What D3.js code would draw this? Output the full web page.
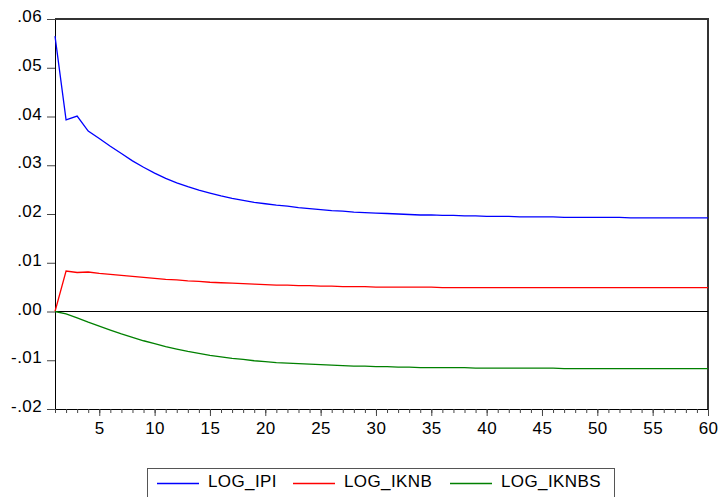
<!DOCTYPE html>
<html>
<head>
<meta charset="utf-8">
<script src="https://cdn.jsdelivr.net/npm/d3@7"></script>
<style>
  body { margin: 0; background: #fff; }
  svg { display: block; font-family: "Liberation Sans", Arial, sans-serif; }
</style>
</head>
<body>
<svg id="chart" width="718" height="497"></svg>
<script>
// Datos (periodos 1..60)
const periods = d3.range(1, 61);

const logIPI = [
  0.0565, 0.0393, 0.0401, 0.0370, 0.0355, 0.0339, 0.0324, 0.0309, 0.0296, 0.0284,
  0.0273, 0.0264, 0.0256, 0.0249, 0.0243, 0.0237, 0.0232, 0.0228, 0.0224, 0.0221,
  0.0218, 0.0216, 0.0213, 0.0211, 0.0209, 0.0207, 0.0206, 0.0204, 0.0203, 0.0202,
  0.0201, 0.0200, 0.0199, 0.0198, 0.0198, 0.0197, 0.0197, 0.0196, 0.0196, 0.0195,
  0.0195, 0.0195, 0.0194, 0.0194, 0.0194, 0.0194, 0.0193, 0.0193, 0.0193, 0.0193,
  0.0193, 0.0193, 0.0192, 0.0192, 0.0192, 0.0192, 0.0192, 0.0192, 0.0192, 0.0192
];

const logIKNB = [
  0.0000, 0.0083, 0.0080, 0.0081, 0.0078, 0.0076, 0.0074, 0.0072, 0.0070, 0.0068,
  0.0066, 0.0065, 0.0063, 0.0062, 0.0060, 0.0059, 0.0058, 0.0057, 0.0056, 0.0055,
  0.0054, 0.0054, 0.0053, 0.0053, 0.0052, 0.0052, 0.0051, 0.0051, 0.0051, 0.0050,
  0.0050, 0.0050, 0.0050, 0.0050, 0.0050, 0.0049, 0.0049, 0.0049, 0.0049, 0.0049,
  0.0049, 0.0049, 0.0049, 0.0049, 0.0049, 0.0049, 0.0049, 0.0049, 0.0049, 0.0049,
  0.0049, 0.0049, 0.0049, 0.0049, 0.0049, 0.0049, 0.0049, 0.0049, 0.0049, 0.0049
];

const logIKNBS = [
  0.0000, -0.0005, -0.0013, -0.0022, -0.0030, -0.0038, -0.0046, -0.0053, -0.0060, -0.0066,
  -0.0072, -0.0077, -0.0082, -0.0086, -0.0090, -0.0093, -0.0096, -0.0098, -0.0101, -0.0103,
  -0.0105, -0.0106, -0.0107, -0.0108, -0.0109, -0.0110, -0.0111, -0.0112, -0.0112, -0.0113,
  -0.0113, -0.0114, -0.0114, -0.0115, -0.0115, -0.0115, -0.0115, -0.0115, -0.0116, -0.0116,
  -0.0116, -0.0116, -0.0116, -0.0116, -0.0116, -0.0116, -0.0117, -0.0117, -0.0117, -0.0117,
  -0.0117, -0.0117, -0.0117, -0.0117, -0.0117, -0.0117, -0.0117, -0.0117, -0.0117, -0.0117
];

const seriesNames = ["LOG_IPI", "LOG_IKNB", "LOG_IKNBS"];
const seriesColors = ["#0000ff", "#ff0000", "#008000"];
const yTicks = [-0.02, -0.01, 0.00, 0.01, 0.02, 0.03, 0.04, 0.05, 0.06];
const xLabelTicks = [5, 10, 15, 20, 25, 30, 35, 40, 45, 50, 55, 60];

const series = [logIPI, logIKNB, logIKNBS];

// Configuración del SVG
const svg = d3.select("#chart");
const plotLeft = 55, plotRight = 708, plotTop = 19, plotBottom = 409;
const fontSize = "17px";

const x = d3.scaleLinear().domain([1, 60]).range([plotLeft, plotRight]);
const y = d3.scaleLinear().domain([-0.02, 0.06]).range([plotBottom, plotTop]);

// Formato estilo EViews: ".06", "-.01" (guion normal, sin cero inicial)
const fmt = v => v.toFixed(2).replace(/^(-?)0\./, "$1.");

// Eje Y
const yAxis = svg.append("g")
  .attr("transform", `translate(${plotLeft},0)`)
  .call(d3.axisLeft(y).tickValues(yTicks).tickFormat(fmt).tickSize(8).tickPadding(5));
yAxis.select(".domain").attr("stroke", "#000");
yAxis.selectAll(".tick line").attr("stroke", "#444");
yAxis.selectAll("text")
  .style("font-size", fontSize)
  .style("letter-spacing", "0.4px")
  .attr("dy", "0.15em")
  .attr("fill", "#000");

// Eje X: ticks menores en cada periodo
const xMinor = svg.append("g")
  .attr("transform", `translate(0,${plotBottom})`)
  .call(d3.axisBottom(x).tickValues(periods).tickFormat("").tickSize(4));
xMinor.select(".domain").attr("stroke", "#000");
xMinor.selectAll(".tick line").attr("stroke", "#444");

const xMajor = svg.append("g")
  .attr("transform", `translate(0,${plotBottom})`)
  .call(d3.axisBottom(x).tickValues(xLabelTicks).tickFormat(d3.format("d")).tickSize(7).tickPadding(6));
xMajor.select(".domain").remove();
xMajor.selectAll(".tick line").attr("stroke", "#444");
xMajor.selectAll("text")
  .style("font-size", fontSize)
  .style("letter-spacing", "0.4px")
  .attr("fill", "#000");

// Marco superior y derecho
svg.append("line")
  .attr("x1", plotLeft).attr("x2", plotRight + 1)
  .attr("y1", plotTop).attr("y2", plotTop)
  .attr("stroke", "#333").attr("stroke-width", 2);
svg.append("line")
  .attr("x1", plotRight).attr("x2", plotRight)
  .attr("y1", plotTop).attr("y2", plotBottom)
  .attr("stroke", "#333").attr("stroke-width", 2);

// Línea de cero
svg.append("line")
  .attr("x1", plotLeft).attr("x2", plotRight)
  .attr("y1", y(0)).attr("y2", y(0))
  .attr("stroke", "#000").attr("stroke-width", 1.2);

// Líneas de las series
const line = d3.line()
  .x((d, i) => x(periods[i]))
  .y(d => y(d));

svg.selectAll(".serie")
  .data(series)
  .enter()
  .append("path")
  .attr("class", "serie")
  .attr("d", d => line(d))
  .attr("fill", "none")
  .attr("stroke", (d, i) => seriesColors[i])
  .attr("stroke-width", 1.3);

// Leyenda
svg.append("rect")
  .attr("x", 147.5).attr("y", 468.5)
  .attr("width", 467).attr("height", 40)
  .attr("fill", "none").attr("stroke", "#555");

const legendX = [157, 293, 450];
const legend = svg.selectAll(".legend")
  .data(seriesNames)
  .enter()
  .append("g")
  .attr("class", "legend")
  .attr("transform", (d, i) => `translate(${legendX[i]},0)`);

legend.append("line")
  .attr("x1", 0).attr("x2", 42)
  .attr("y1", 483.5).attr("y2", 483.5)
  .attr("stroke", (d, i) => seriesColors[i])
  .attr("stroke-width", 1.3);

legend.append("text")
  .attr("x", 51).attr("y", 487)
  .style("font-size", fontSize)
  .style("letter-spacing", "0.4px")
  .attr("fill", "#000")
  .text(d => d);
</script>
</body>
</html>
